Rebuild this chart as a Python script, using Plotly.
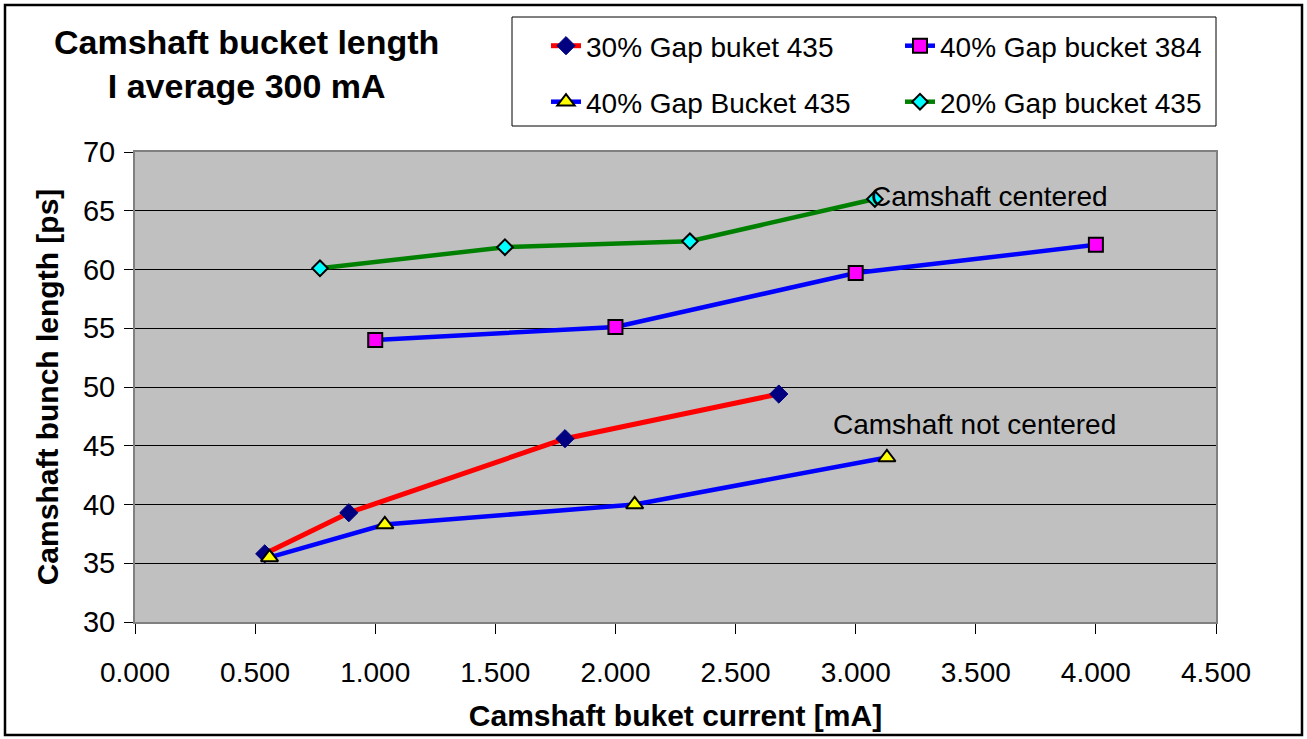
import plotly.graph_objects as go

# Camshaft bunch length vs bucket current, four gap configurations
names = ["30% Gap buket 435", "40% Gap bucket 384", "40% Gap Bucket 435", "20% Gap bucket 435"]

x_gap30_435 = [0.54, 0.89, 1.79, 2.68]
y_gap30_435 = [35.8, 39.3, 45.6, 49.4]

x_gap40_384 = [1.00, 2.00, 3.00, 4.00]
y_gap40_384 = [54.0, 55.1, 59.7, 62.1]

x_gap40_435 = [0.56, 1.04, 2.08, 3.13]
y_gap40_435 = [35.5, 38.3, 40.0, 44.0]

x_gap20_435 = [0.77, 1.54, 2.31, 3.08]
y_gap20_435 = [60.1, 61.9, 62.4, 66.0]

x_ticks = [0.0, 0.5, 1.0, 1.5, 2.0, 2.5, 3.0, 3.5, 4.0, 4.5]
y_ticks = [30, 35, 40, 45, 50, 55, 60, 65, 70]

FONT = "Liberation Sans, Arial, sans-serif"
W, H = 1307, 739
ML, MR, MT, MB = 135, 91, 152, 117
PW, PH = W - ML - MR, H - MT - MB


def px_x(p):
    return (p - ML) / PW


def px_y(p):
    return (H - MB - p) / PH


fig = go.Figure()

fig.add_trace(go.Scatter(
    x=x_gap30_435, y=y_gap30_435, name=names[0], mode="lines+markers",
    line=dict(color="#FF0000", width=5),
    marker=dict(symbol="diamond", size=14, color="#000080", line=dict(color="#000080", width=1)),
    legend="legend",
))
fig.add_trace(go.Scatter(
    x=x_gap40_384, y=y_gap40_384, name=names[1], mode="lines+markers",
    line=dict(color="#0000FF", width=4.5),
    marker=dict(symbol="square", size=14, color="#FF00FF", line=dict(color="#000000", width=2)),
    legend="legend",
))
fig.add_trace(go.Scatter(
    x=x_gap40_435, y=y_gap40_435, name=names[2], mode="lines+markers",
    line=dict(color="#0000FF", width=4.5),
    marker=dict(symbol="triangle-up", size=15, color="#FFFF00", line=dict(color="#000000", width=2)),
    legend="legend2",
))
fig.add_trace(go.Scatter(
    x=x_gap20_435, y=y_gap20_435, name=names[3], mode="lines+markers",
    line=dict(color="#008000", width=4.5),
    marker=dict(symbol="diamond", size=12, color="#00FFFF", line=dict(color="#000000", width=2)),
    legend="legend2",
))

legend_common = dict(
    orientation="h", xanchor="left", yanchor="middle",
    font=dict(family=FONT, size=28, color="#000000"),
    bgcolor="rgba(0,0,0,0)", borderwidth=0,
    entrywidth=309, entrywidthmode="pixels",
)

fig.update_layout(
    width=W, height=H,
    margin=dict(l=ML, r=MR, t=MT, b=MB, autoexpand=False),
    paper_bgcolor="#FFFFFF",
    plot_bgcolor="#C0C0C0",
    font=dict(family=FONT, size=28, color="#000000"),
    legend=dict(x=px_x(546), y=px_y(46), **legend_common),
    legend2=dict(x=px_x(546), y=px_y(102), **legend_common),
    xaxis=dict(
        range=[0, 4.5], tickvals=x_ticks, tickformat=".3f",
        ticks="outside", ticklen=10, tickwidth=1, tickcolor="#000000",
        ticklabelstandoff=14,
        showline=True, linecolor="#808080", linewidth=2, mirror=True,
        showgrid=False, zeroline=False,
        tickfont=dict(family=FONT, size=28),
        title=dict(text="<b>Camshaft buket current [mA]</b>",
                   font=dict(family=FONT, size=30), standoff=18),
    ),
    yaxis=dict(
        range=[30, 70], tickvals=y_ticks,
        ticks="outside", ticklen=9, tickwidth=1, tickcolor="#000000",
        ticklabelstandoff=3,
        showline=True, linecolor="#808080", linewidth=2, mirror=True,
        showgrid=True, gridcolor="#000000", gridwidth=1, zeroline=False,
        tickfont=dict(family=FONT, size=29),
        title=dict(text="<b>Camshaft bunch length [ps]</b>",
                   font=dict(family=FONT, size=30), standoff=15),
    ),
)

# Chart title
fig.add_annotation(
    x=px_x(246), y=px_y(64), xref="paper", yref="paper",
    xanchor="center", yanchor="middle", showarrow=False, align="center",
    text="<b>Camshaft bucket length<br>I average 300 mA</b>",
    font=dict(family=FONT, size=34, color="#000000"),
)

# Series annotations
fig.add_annotation(
    x=3.054, y=66.2, xref="x", yref="y", xanchor="left", yanchor="middle",
    showarrow=False, text="Camshaft centered",
    font=dict(family=FONT, size=28, color="#000000"),
)
fig.add_annotation(
    x=2.896, y=46.85, xref="x", yref="y", xanchor="left", yanchor="middle",
    showarrow=False, text="Camshaft not centered",
    font=dict(family=FONT, size=28, color="#000000"),
)

# Legend frame
fig.add_shape(
    type="rect", xref="paper", yref="paper",
    x0=px_x(512), x1=px_x(1216), y0=px_y(126), y1=px_y(17),
    line=dict(color="#000000", width=1), fillcolor="rgba(0,0,0,0)", layer="above",
)

# Outer chart frame
fig.add_shape(
    type="rect", xref="paper", yref="paper",
    x0=px_x(5), x1=px_x(1302), y0=px_y(735), y1=px_y(5),
    line=dict(color="#000000", width=2.5), fillcolor="rgba(0,0,0,0)", layer="above",
)

fig.write_html("out.html")
